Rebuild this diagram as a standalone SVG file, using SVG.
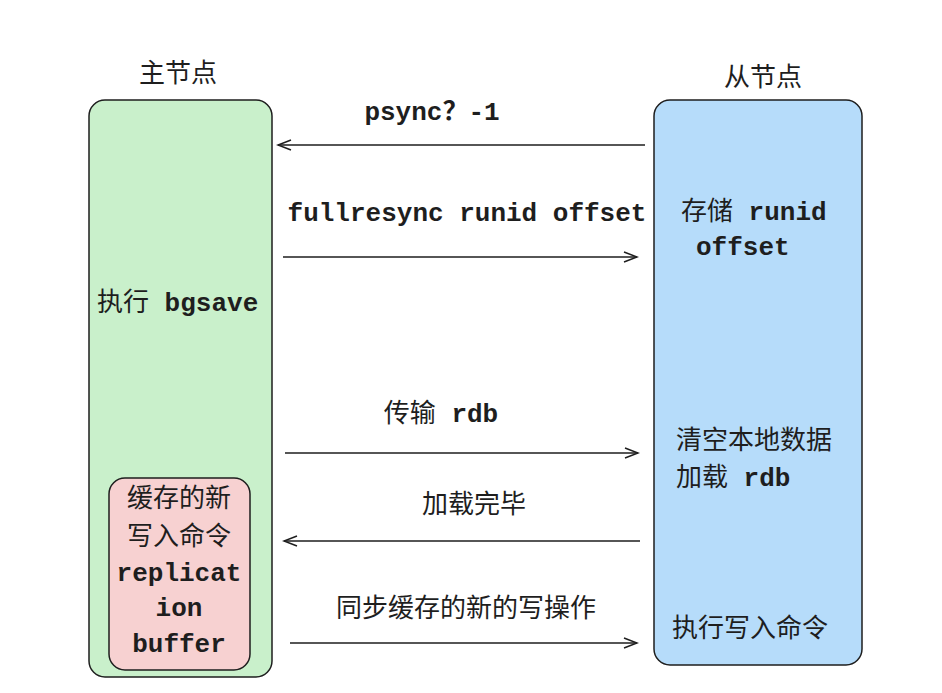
<svg xmlns="http://www.w3.org/2000/svg" width="942" height="693" viewBox="0 0 942 693">
<defs>
<style>
text{font-family:"Liberation Mono","Noto Sans CJK SC",monospace;font-size:26px;fill:#1e1e1e;font-weight:bold}
.n{font-weight:normal}
.box{stroke:#1e1e1e;stroke-width:1.5}
.c line{stroke:#1e1e1e;stroke-width:1.5}
</style>
<marker id="ah" markerWidth="16" markerHeight="12" refX="14" refY="6" orient="auto" markerUnits="userSpaceOnUse">
<path d="M1,1 L14,6 L1,11" fill="none" stroke="#1e1e1e" stroke-width="1.5"/>
</marker>
</defs>
<rect width="942" height="693" fill="#fff"/>
<g id="master">
<rect class="box" x="89" y="100" width="183" height="577" rx="16" fill="#c9f0cb"/>
<text class="n" x="178" y="82" text-anchor="middle">主节点</text>
<text x="97" y="311"><tspan class="n">执行</tspan> bgsave</text>
</g>
<g id="buffer">
<rect class="box" x="109" y="478" width="141" height="192" rx="16" fill="#f7d1d1"/>
<text class="n" x="179" y="507" text-anchor="middle">缓存的新</text>
<text class="n" x="179" y="545" text-anchor="middle">写入命令</text>
<text x="179" y="581" text-anchor="middle">replicat</text>
<text x="179" y="616" text-anchor="middle">ion</text>
<text x="179" y="652" text-anchor="middle">buffer</text>
</g>
<g id="slave">
<rect class="box" x="654" y="100" width="208" height="565" rx="16" fill="#b6dcfa"/>
<text class="n" x="763" y="86" text-anchor="middle">从节点</text>
<text x="681" y="220"><tspan class="n">存储</tspan> runid</text>
<text x="696" y="255">offset</text>
<text class="n" x="676" y="449">清空本地数据</text>
<text x="676" y="486"><tspan class="n">加载</tspan> rdb</text>
<text class="n" x="672" y="637">执行写入命令</text>
</g>
<g class="c" id="connectors">
<line x1="645" y1="145" x2="278" y2="145" marker-end="url(#ah)"/>
<line x1="283" y1="257" x2="637" y2="257" marker-end="url(#ah)"/>
<line x1="285" y1="453" x2="638" y2="453" marker-end="url(#ah)"/>
<line x1="640" y1="541" x2="284" y2="541" marker-end="url(#ah)"/>
<line x1="290" y1="643" x2="637" y2="643" marker-end="url(#ah)"/>
</g>
<g id="labels">
<text x="432" y="120" text-anchor="middle">psync？-1</text>
<text x="467" y="221" text-anchor="middle">fullresync runid offset</text>
<text x="441" y="422" text-anchor="middle"><tspan class="n">传输</tspan> rdb</text>
<text class="n" x="474" y="513" text-anchor="middle">加载完毕</text>
<text class="n" x="466" y="617" text-anchor="middle">同步缓存的新的写操作</text>
</g>
</svg>
